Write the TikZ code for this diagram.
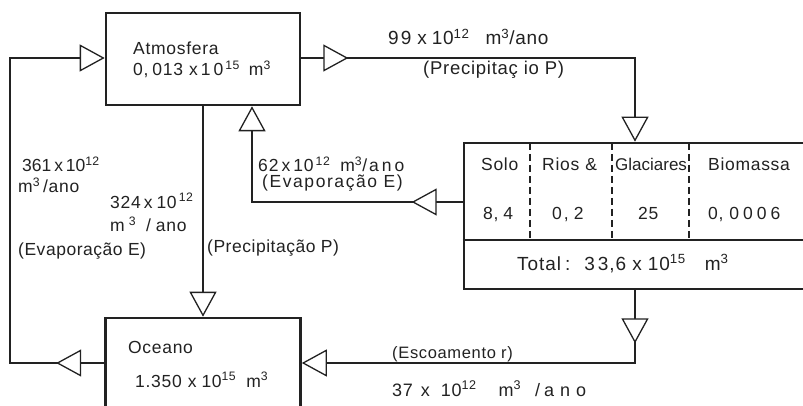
\documentclass[tikz,border=0pt]{standalone}
\usepackage{fontspec}
\setmainfont{Liberation Sans}
\usetikzlibrary{arrows.meta,decorations.markings}
\definecolor{ink}{HTML}{222222}
\newcommand{\hsp}[1]{\hspace{#1pt}}
\tikzset{
  tri/.tip={Triangle[length=25pt,width=27pt,fill=white,line width=1.3pt]},
  box/.style={draw=ink,line width=2.6pt,inner sep=0pt,rectangle},
  flow/.style={draw=ink,line width=1.3pt},
  midtri/.style={postaction={decorate},decoration={markings,mark=at position #1 with {\arrow{tri}}}},
  lbl/.style={anchor=base west,inner sep=0pt,text=ink},
  fs/.style 2 args={font=\fontsize{#1}{#1}\selectfont\addfontfeature{LetterSpace=#2}},
  divider/.style={draw=ink,line width=1.2pt,dash pattern=on 7pt off 4pt},
}
\begin{document}
\begin{tikzpicture}[x=1pt,y=-1pt]
\useasboundingbox (0,0) rectangle (803,406);
\clip (0,0) rectangle (803,406);
\fill[white] (0,0) rectangle (803,406);

% boxes
\node[box,minimum width=194pt,minimum height=92pt] (atm) at (203,59) {};
\node[box,minimum width=356pt,minimum height=146pt] (store) at (642,216) {};
\node[box,minimum width=195pt,minimum height=124pt] (ocean) at (203,380) {};

% store inner dividers
\draw[ink,line width=2.2pt] (store.west |- 0,240) -- (store.east |- 0,240);
\draw[divider] (530,143) -- (530,240);
\draw[divider] (612,143) -- (612,240);
\draw[divider] (689,143) -- (689,240);

% helper coordinates
\coordinate (yA) at (0,58);
\coordinate (yO) at (0,363);
\coordinate (yE) at (0,202);
\coordinate (cL1) at (10,363);
\coordinate (cL2) at (10,58);
\coordinate (cR1) at (635,58);
\coordinate (cE) at (252,202);
\coordinate (cR2) at (635,363);

% connectors
\draw[flow,-{tri},midtri=48pt] (ocean.west |- yO) -- (cL1) -- (cL2) -- (atm.west |- yA);
\draw[flow,-{tri},midtri=47pt] (atm.east |- yA) -- (cR1) -- (cR1 |- store.north);
\draw[flow,-{tri}] (atm.south) -- (ocean.north);
\draw[flow,-{tri},midtri=51pt] (store.west |- yE) -- (cE) -- (cE |- atm.south);
\draw[flow,-{tri},midtri=53pt] (cR2 |- store.south) -- (cR2) -- (ocean.east |- cR2);

% texts
\node[lbl,fs={17.5}{4}] (tA1) at (133,55) {Atmosfera};
\node[lbl,fs={17.5}{4}] (tA2) at (133,76) {0,\hsp{4}013\hsp{6}x\hsp{3}1\hsp{3}0\textsuperscript{\,15}\hsp{9}m\textsuperscript{3}};
\node[lbl,fs={19}{4}] (tP1) at (388,45) {9\hsp{2}9\hsp{6}x\hsp{5}10\textsuperscript{12}\hsp{16}m\textsuperscript{3}/ano};
\node[lbl,fs={18.5}{4}] (tP2) at (423,75) {(Precipitaç io P)};
\node[lbl,fs={17.5}{0}] (tL1) at (22,172) {361\,x\,10\textsuperscript{12}};
\node[lbl,fs={17.5}{4}] (tL2) at (18,193) {m\textsuperscript{3}\hsp{3}/ano};
\node[lbl,fs={17.5}{4}] (tL3) at (110,208) {324\hsp{3}x\hsp{4}10\textsuperscript{\,12}};
\node[lbl,fs={17.5}{4}] (tL4) at (110,232) {m\hsp{4}\textsuperscript{3}\hsp{10}/\hsp{5}ano};
\node[lbl,fs={17.5}{3}] (tL5) at (18,255) {(Evaporação E)};
\node[lbl,fs={17.5}{3}] (tL6) at (207,252) {(Precipitação P)};
\node[lbl,fs={17.5}{5}] (tE1) at (258,172) {62\hsp{3}x\hsp{3}10\textsuperscript{\,12}\hsp{10}m\textsuperscript{3}/\hsp{2}a\hsp{3}n\hsp{3}o};
\node[lbl,fs={17.5}{9}] (tE2) at (262,188) {(Evaporação E)};
\node[lbl,fs={17.5}{4}] (tS1) at (481,171) {Solo};
\node[lbl,fs={17.5}{4}] (tS2) at (542,171) {Rios\hsp{6}\&};
\node[lbl,fs={17}{0}] (tS3) at (615,171) {Glaciares};
\node[lbl,fs={17.5}{4}] (tS4) at (708,171) {Biomassa};
\node[lbl,fs={17.5}{4}] (tV1) at (483,220) {8,\hsp{5}4};
\node[lbl,fs={17.5}{4}] (tV2) at (552,220) {0\hsp{2},\hsp{5}2};
\node[lbl,fs={17.5}{4}] (tV3) at (638,220) {25};
\node[lbl,fs={17.5}{4}] (tV4) at (708,220) {0,\hsp{6}0\hsp{4}0\hsp{4}0\hsp{4}6};
\node[lbl,fs={19}{5}] (tT) at (517,270) {Total\hsp{4}:\hsp{14}3\hsp{3}3,6\hsp{6}x\hsp{6}10\textsuperscript{15}\hsp{19}m\textsuperscript{3}};
\node[lbl,fs={16.5}{4}] (tR1) at (392,358) {(Escoamento r)};
\node[lbl,fs={18}{4}] (tR2) at (392,396) {37\hsp{8}x\hsp{11}10\textsuperscript{12}\hsp{22}m\textsuperscript{3}\hsp{14}/\hsp{4}a\hsp{6}n\hsp{6}o};
\node[lbl,fs={17.5}{4}] (tO1) at (128,353) {Oceano};
\node[lbl,fs={17.5}{4}] (tO2) at (135,387) {1.350\hsp{6}x\hsp{5}10\textsuperscript{15}\hsp{10}m\textsuperscript{3}};
\end{tikzpicture}
\end{document}
